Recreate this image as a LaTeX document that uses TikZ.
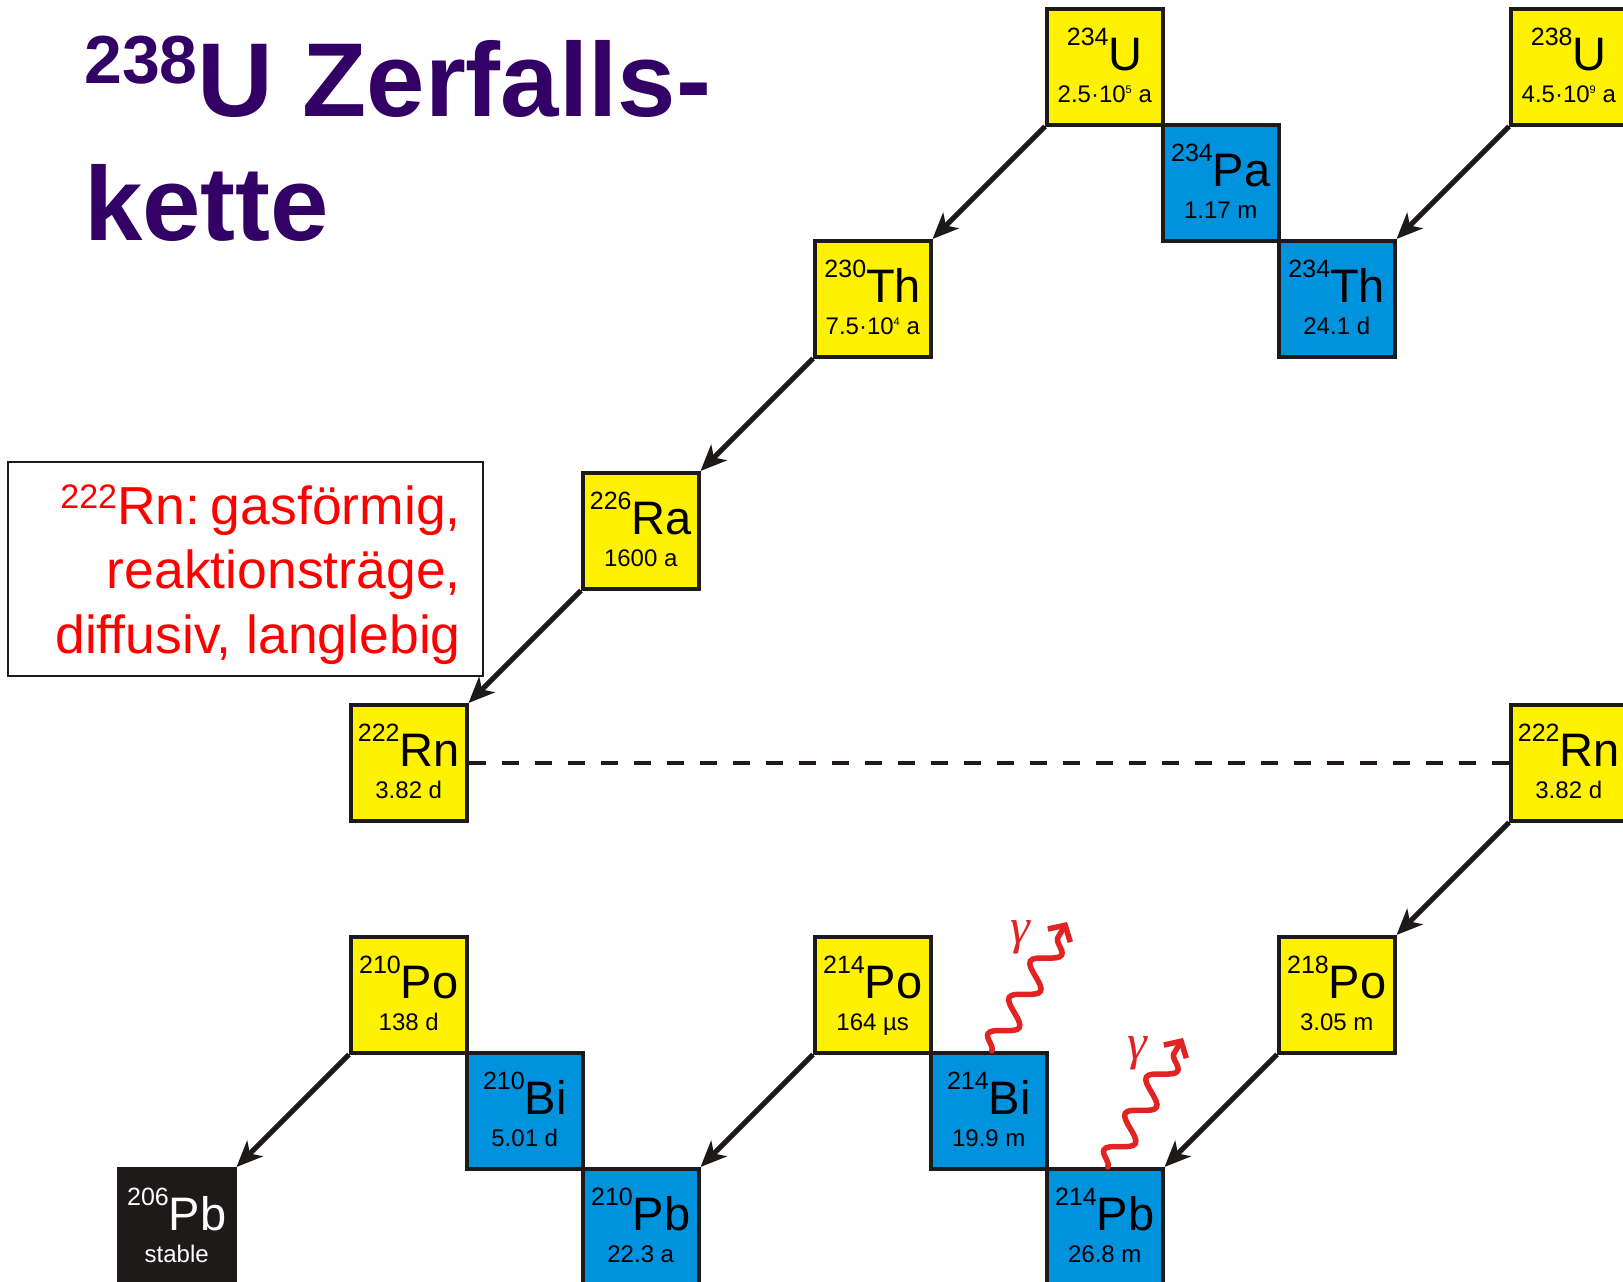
\documentclass[tikz,border=0pt]{standalone}
\usepackage{fontspec}
\setmainfont{Liberation Sans}
\newfontfamily\gamfont{Liberation Serif}
\usetikzlibrary{arrows.meta,decorations.pathmorphing}
\definecolor{nucyellow}{RGB}{255,242,0}
\definecolor{nucblue}{RGB}{0,146,221}
\definecolor{boxline}{RGB}{30,26,26}
\definecolor{gamred}{RGB}{225,35,35}
\definecolor{legred}{RGB}{255,0,0}
\definecolor{titlecol}{RGB}{51,0,102}
\newcommand{\expo}[1]{\raisebox{9pt}{\fontsize{11}{11}\selectfont #1}}
\newcommand{\nuc}[8]{%
  \node[nbox, fill=#4] (#1) at ({117+116*#2},{7+116*#3}) {};
  \node[symtxt, text=#5] (#1s) at ([yshift=-63pt]#1.north) {{\fontsize{25}{25}\selectfont\raisebox{25pt}{#6}}#7};
  \node[halftxt, text=#5] (#1h) at ([yshift=-95pt]#1.north) {#8};
}
\tikzset{
  nbox/.style={anchor=north west, minimum width=116pt, minimum height=116pt, inner sep=0pt, draw=boxline, line width=3.5pt},
  symtxt/.style={anchor=base, inner sep=0pt, font=\fontsize{47}{47}\selectfont},
  halftxt/.style={anchor=base, inner sep=0pt, font=\fontsize{24}{24}\selectfont},
  decay/.style={draw=boxline, line width=5pt, -{Stealth[length=26pt,width=22pt,inset=7pt]}},
  gam/.style={draw=gamred, line width=5.5pt, line cap=round, decorate, decoration={snake, amplitude=12pt, segment length=42pt, post length=14pt}, -{Straight Barb[length=12pt,width=26pt]}},
  gamtxt/.style={text=gamred, inner sep=0pt, font=\fontsize{50}{50}\selectfont\gamfont\itshape},
  titletxt/.style={anchor=base west, inner sep=0pt, text=titlecol, font=\fontsize{105}{105}\selectfont\bfseries},
  legtxt/.style={anchor=base east, inner sep=0pt, text=legred, font=\fontsize{53.5}{53.5}\selectfont},
}
\begin{document}
\begin{tikzpicture}[x=1pt,y=-1pt]
\useasboundingbox (0,0) rectangle (1623,1282);
\clip (0,0) rectangle (1623,1282);
\fill[white] (0,0) rectangle (1623,1282);
% title
\node[titletxt] (title1) at (84,116) {{\fontsize{68}{68}\selectfont\raisebox{33pt}{238}}U Zerfalls-};
\node[titletxt] (title2) at (84,240) {kette};
% legend
\node[anchor=north west, minimum width=475pt, minimum height=214pt, inner sep=0pt, draw=boxline, line width=1.5pt] (legend) at (7,461) {};
\node[legtxt] (leg1) at (461,524) {{\fontsize{34}{34}\selectfont\raisebox{16pt}{222}}Rn:\hspace{0.2em}gasförmig,};
\node[legtxt] (leg2) at (461,588) {reaktionsträge,};
\node[legtxt] (leg3) at (461,653) {diffusiv, langlebig};
% nuclides
\nuc{U238}{12}{0}{nucyellow}{black}{238}{U}{4.5·10\expo{9} a}
\nuc{Th234}{10}{2}{nucblue}{black}{234}{Th}{24.1 d}
\nuc{Pa234}{9}{1}{nucblue}{black}{234}{Pa}{1.17 m}
\nuc{U234}{8}{0}{nucyellow}{black}{234}{U}{2.5·10\expo{5} a}
\nuc{Th230}{6}{2}{nucyellow}{black}{230}{Th}{7.5·10\expo{4} a}
\nuc{Ra226}{4}{4}{nucyellow}{black}{226}{Ra}{1600 a}
\nuc{RnL}{2}{6}{nucyellow}{black}{222}{Rn}{3.82 d}
\nuc{RnR}{12}{6}{nucyellow}{black}{222}{Rn}{3.82 d}
\nuc{Po218}{10}{8}{nucyellow}{black}{218}{Po}{3.05 m}
\nuc{Pb214}{8}{10}{nucblue}{black}{214}{Pb}{26.8 m}
\nuc{Bi214}{7}{9}{nucblue}{black}{214}{Bi}{19.9 m}
\nuc{Po214}{6}{8}{nucyellow}{black}{214}{Po}{164 µs}
\nuc{Pb210}{4}{10}{nucblue}{black}{210}{Pb}{22.3 a}
\nuc{Bi210}{3}{9}{nucblue}{black}{210}{Bi}{5.01 d}
\nuc{Po210}{2}{8}{nucyellow}{black}{210}{Po}{138 d}
\nuc{Pb206}{0}{10}{boxline}{white}{206}{Pb}{stable}
% alpha decays
\draw[decay] (U238.south west) -- (Th234.north east);
\draw[decay] (U234.south west) -- (Th230.north east);
\draw[decay] (Th230.south west) -- (Ra226.north east);
\draw[decay] (Ra226.south west) -- (RnL.north east);
\draw[decay] (RnR.south west) -- (Po218.north east);
\draw[decay] (Po218.south west) -- (Pb214.north east);
\draw[decay] (Po214.south west) -- (Pb210.north east);
\draw[decay] (Po210.south west) -- (Pb206.north east);
% radon link
\draw[draw=boxline, line width=4pt, dash pattern=on 17pt off 16pt] (RnL.east) -- (RnR.west);
% gamma emissions
\coordinate (g1) at (1067,922);
\coordinate (g2) at (1183,1038);
\draw[gam] ([xshift=3pt]Bi214.north) -- (g1);
\draw[gam] ([xshift=3pt]Pb214.north) -- (g2);
\node[gamtxt] (gl1) at (1020,937) {γ};
\node[gamtxt] (gl2) at (1137,1053) {γ};
\end{tikzpicture}
\end{document}
